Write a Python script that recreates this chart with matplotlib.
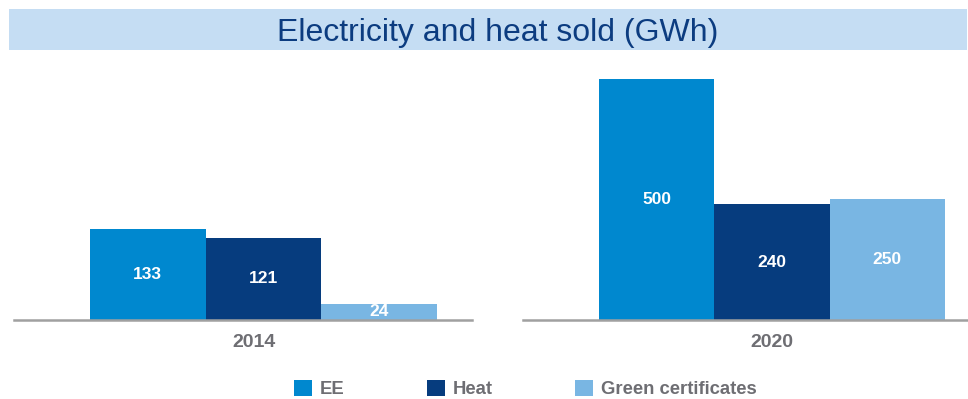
import matplotlib
matplotlib.use("Agg")
import matplotlib.pyplot as plt
from matplotlib.patches import Rectangle, Patch

# Data
years = ["2014", "2020"]
series = ["EE", "Heat", "Green certificates"]
values_2014 = [133, 121, 24]
values_2020 = [500, 240, 250]
title = "Electricity and heat sold (GWh)"

colors = ["#0088cf", "#063c7e", "#79b6e3"]
banner_color = "#c5ddf3"
title_color = "#0c3c80"
gray = "#6e6e73"
axis_gray = "#a0a0a0"

plt.rcParams["font.family"] = ["Liberation Sans", "DejaVu Sans"]

W, H = 968, 399
fig = plt.figure(figsize=(W / 100, H / 100), dpi=100)


def fx(px):
    return px / W


def fy(py):
    return (H - py) / H


# Title banner
fig.patches.append(Rectangle((fx(9), fy(50)), fx(967) - fx(9), fy(9) - fy(50),
                             transform=fig.transFigure, facecolor=banner_color,
                             edgecolor="none", zorder=0))
fig.text(fx(498), fy(41), title, ha="center", va="baseline",
         fontsize=23, color=title_color)

# Two panels, each with its own scale
panels = [
    dict(values=values_2014, year=years[0], left=14, right=472,
         xlim=(-1.157, 2.803), ylim=382, year_x=0.92),
    dict(values=values_2020, year=years[1], left=523, right=968,
         xlim=(-1.159, 2.70), ylim=539, year_x=1.0),
]

top_px, base_px = 60, 320
for p in panels:
    ax = fig.add_axes([fx(p["left"]), fy(base_px), fx(p["right"]) - fx(p["left"]),
                       fy(top_px) - fy(base_px)])
    x = list(range(len(series)))
    bars = ax.bar(x, p["values"], width=1.0, color=colors, edgecolor="none", zorder=2)
    ax.bar_label(bars, labels=[str(v) for v in p["values"]], label_type="center",
                 color="white", fontsize=12.5, fontweight="bold")
    ax.set_xlim(*p["xlim"])
    ax.set_ylim(0, p["ylim"])
    for s in ["top", "left", "right"]:
        ax.spines[s].set_visible(False)
    ax.spines["bottom"].set_color(axis_gray)
    ax.spines["bottom"].set_linewidth(1.8)
    ax.spines["bottom"].set_zorder(3)
    ax.set_xticks([])
    ax.set_yticks([])
    ax.patch.set_visible(False)
    ax.annotate(p["year"], xy=(p["year_x"], 0), xycoords="data",
                xytext=(0, -19.5), textcoords="offset points",
                ha="center", va="baseline", fontsize=14, fontweight="bold",
                color=gray, annotation_clip=False)

# Legend
handles = [Patch(facecolor=c, edgecolor="none", label=s) for c, s in zip(colors, series)]
leg = fig.legend(handles=handles, loc="center left",
                 bbox_to_anchor=(fx(294), fy(389)), ncol=3, frameon=False,
                 borderpad=0, borderaxespad=0, handlelength=0.97, handleheight=0.97,
                 handletextpad=0.43, columnspacing=4.45,
                 prop=dict(size=13.3, weight="bold"))
for t in leg.get_texts():
    t.set_color(gray)

fig.savefig("out.png", dpi=100)
